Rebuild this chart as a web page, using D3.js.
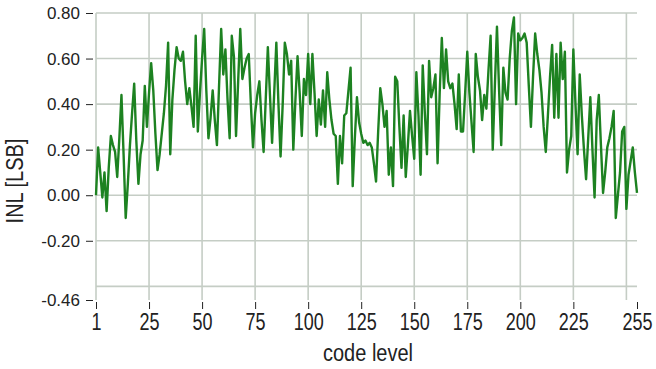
<!DOCTYPE html>
<html>
<head>
<meta charset="utf-8">
<script src="https://cdn.jsdelivr.net/npm/d3@7"></script>
<style>
  body { margin: 0; background: #fff; }
  text { font-family: "Liberation Sans", Arial, sans-serif; fill: #222; }
</style>
</head>
<body>
<div id="chart"></div>
<script>
// INL per code level (index 0 sits at the "1" tick)
var inl = [
  0.00, 0.21, 0.10, -0.01, 0.10, -0.07, 0.12, 0.26, 0.22, 0.19,
  0.08, 0.25, 0.44, 0.18, -0.10, 0.05, 0.22, 0.36, 0.49, 0.24,
  0.05, 0.18, 0.24, 0.48, 0.30, 0.45, 0.58, 0.46, 0.27, 0.11,
  0.18, 0.27, 0.36, 0.48, 0.67, 0.18, 0.42, 0.55, 0.65, 0.60,
  0.59, 0.63, 0.50, 0.40, 0.47, 0.39, 0.30, 0.70, 0.28, 0.45,
  0.60, 0.73, 0.46, 0.25, 0.34, 0.46, 0.33, 0.22, 0.48, 0.73,
  0.53, 0.64, 0.42, 0.25, 0.70, 0.61, 0.26, 0.50, 0.73, 0.51,
  0.56, 0.60, 0.62, 0.40, 0.21, 0.36, 0.44, 0.50, 0.33, 0.19,
  0.42, 0.65, 0.44, 0.23, 0.45, 0.67, 0.40, 0.17, 0.40, 0.67,
  0.62, 0.53, 0.59, 0.20, 0.42, 0.61, 0.45, 0.26, 0.51, 0.44,
  0.62, 0.40, 0.62, 0.45, 0.26, 0.42, 0.31, 0.46, 0.30, 0.54,
  0.42, 0.33, 0.27, 0.26, 0.05, 0.26, 0.14, 0.35, 0.36, 0.46,
  0.56, 0.04, 0.25, 0.43, 0.32, 0.27, 0.23, 0.24, 0.22, 0.23,
  0.21, 0.14, 0.06, 0.28, 0.47, 0.40, 0.30, 0.37, 0.09, 0.21,
  0.04, 0.52, 0.50, 0.30, 0.12, 0.35, 0.08, 0.22, 0.37, 0.26,
  0.16, 0.54, 0.35, 0.09, 0.57, 0.36, 0.18, 0.59, 0.43, 0.47,
  0.53, 0.14, 0.45, 0.69, 0.47, 0.64, 0.50, 0.47, 0.49, 0.40,
  0.29, 0.53, 0.28, 0.28, 0.45, 0.63, 0.45, 0.32, 0.19, 0.62,
  0.52, 0.46, 0.33, 0.44, 0.38, 0.55, 0.70, 0.20, 0.48, 0.74,
  0.46, 0.22, 0.56, 0.45, 0.42, 0.60, 0.72, 0.78, 0.40, 0.71,
  0.68, 0.69, 0.71, 0.67, 0.48, 0.30, 0.52, 0.71, 0.62, 0.55,
  0.45, 0.30, 0.19, 0.35, 0.52, 0.66, 0.34, 0.62, 0.34, 0.67,
  0.51, 0.63, 0.10, 0.20, 0.26, 0.64, 0.40, 0.18, 0.53, 0.35,
  0.20, 0.07, 0.25, 0.43, 0.20, -0.01, 0.33, 0.44, 0.22, 0.01,
  0.10, 0.21, 0.25, 0.30, 0.37, -0.10, 0.00, 0.10, 0.28, 0.30,
  -0.06, 0.09, 0.15, 0.21, 0.10, 0.01
];

var xTickValues = [0, 25, 50, 75, 100, 125, 150, 175, 200, 225, 255];
var xTickLabels = ["1", "25", "50", "75", "100", "125", "150", "175", "200", "225", "255"];
var xGridValues = [25, 50, 75, 100, 125, 150, 175, 200, 225, 250];
var yTickValues = [0.80, 0.60, 0.40, 0.20, 0.00, -0.20, -0.46];
var yGridValues = [0.80, 0.60, 0.40, 0.20, 0.00, -0.20, -0.40];

var width = 656;
var height = 369;
var gridColor = "#c5cdc5";
var lineColor = "#1d8221";

var svg = d3.select("#chart").append("svg")
    .attr("width", width)
    .attr("height", height);

var x = d3.scaleLinear().domain([0, 255]).range([96, 637]);
var y = d3.scaleLinear().domain([-0.46, 0.80]).range([300, 13]);

// grid
svg.selectAll(".hgrid")
    .data(yGridValues)
    .enter()
    .append("line")
    .attr("x1", x(0))
    .attr("x2", x(255))
    .attr("y1", function(d) { return y(d); })
    .attr("y2", function(d) { return y(d); })
    .attr("stroke", gridColor)
    .attr("stroke-width", 1.6);

svg.selectAll(".vgrid")
    .data(xGridValues)
    .enter()
    .append("line")
    .attr("x1", function(d) { return x(d); })
    .attr("x2", function(d) { return x(d); })
    .attr("y1", y(0.80))
    .attr("y2", y(-0.46))
    .attr("stroke", gridColor)
    .attr("stroke-width", 1.6);

// left frame
svg.append("line")
    .attr("x1", x(0)).attr("x2", x(0))
    .attr("y1", y(0.80)).attr("y2", y(-0.46))
    .attr("stroke", gridColor)
    .attr("stroke-width", 1.6);

// the INL trace
var line = d3.line()
    .x(function(d, i) { return x(i); })
    .y(function(d) { return y(d); });

svg.append("path")
    .datum(inl)
    .attr("d", line)
    .attr("fill", "none")
    .attr("stroke", lineColor)
    .attr("stroke-width", 2.4)
    .attr("stroke-linejoin", "round");

// y axis (plain hyphen for negatives, like the original)
var yAxis = svg.append("g")
    .attr("transform", "translate(93,0)")
    .call(d3.axisLeft(y)
        .tickValues(yTickValues)
        .tickSize(7)
        .tickPadding(6)
        .tickFormat(function(d) { return d.toFixed(2); }));
yAxis.select(".domain").remove();
yAxis.selectAll("line").attr("stroke", "#222");
yAxis.selectAll("text")
    .attr("font-size", "17px")
    .attr("font-family", "Liberation Sans, Arial, sans-serif")
    .attr("fill", "#222");

// x axis
var xAxis = svg.append("g")
    .attr("transform", "translate(0,302)")
    .call(d3.axisBottom(x)
        .tickValues(xTickValues)
        .tickSize(7)
        .tickFormat(function(d, i) { return xTickLabels[i]; }));
xAxis.select(".domain").remove();
xAxis.selectAll("line").attr("stroke", "#222");
xAxis.selectAll("text")
    .attr("y", 0)
    .attr("dy", null)
    .attr("transform", "translate(0,28) scale(1,1.3)")
    .attr("font-size", "18px")
    .attr("font-family", "Liberation Sans, Arial, sans-serif")
    .attr("fill", "#222");

// axis titles
svg.append("text")
    .attr("transform", "translate(368,361) scale(1,1.15)")
    .attr("text-anchor", "middle")
    .attr("font-size", "20px")
    .text("code level");

svg.append("text")
    .attr("transform", "translate(23,181) rotate(-90) scale(1,1.15)")
    .attr("text-anchor", "middle")
    .attr("font-size", "20px")
    .text("INL [LSB]");
</script>
</body>
</html>
